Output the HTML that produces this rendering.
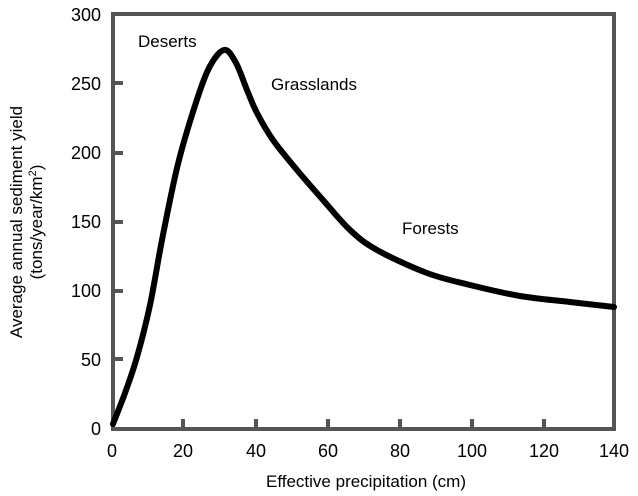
<!DOCTYPE html>
<html><head><style>body{margin:0;background:#fff}svg{display:block}</style></head><body>
<svg width="638" height="496" xmlns="http://www.w3.org/2000/svg" font-family="Liberation Sans, Arial, sans-serif">
<rect x="0" y="0" width="638" height="496" fill="#fff"/>
<g stroke="#555" stroke-width="4" fill="none">
<rect x="113" y="14" width="501" height="415"/>
<path d="M183,429v-10M256,429v-10M328,429v-10M400,429v-10M472,429v-10M544,429v-10M113,359h10M113,291h10M113,222h10M113,153h10M113,83h10"/>
</g>
<g font-size="18" fill="#000" text-anchor="end">
<text x="101" y="435">0</text><text x="101" y="366">50</text><text x="101" y="297">100</text>
<text x="101" y="228">150</text><text x="101" y="159">200</text><text x="101" y="90">250</text><text x="101" y="21">300</text>
</g>
<g font-size="18" fill="#000" text-anchor="middle">
<text x="112" y="457">0</text><text x="183" y="457">20</text><text x="256" y="457">40</text><text x="328" y="457">60</text>
<text x="400" y="457">80</text><text x="472" y="457">100</text><text x="544" y="457">120</text><text x="614" y="457">140</text>
<text x="366" y="487" font-size="17">Effective precipitation (cm)</text>
</g>
<g font-size="17" fill="#000" text-anchor="middle">
<text transform="translate(22,222) rotate(-90)">Average annual sediment yield</text>
<text transform="translate(42,222) rotate(-90)">(tons/year/km<tspan font-size="11" dy="-6">2</tspan><tspan dy="6">)</tspan></text>
</g>
<g font-size="17" fill="#000">
<text x="138" y="47">Deserts</text><text x="271" y="90">Grasslands</text><text x="402" y="234">Forests</text>
</g>
<path id="c" d="M113,424 L137,357 L150,307 L160,240 L177,163 L190,117 L207,70 L223,50 L240,67 L257,110 L277,140 L303,180 L328,210 L375,248 L410,265 L450,280 L500,295 L550,302 L614,307" fill="none" stroke="#000" stroke-width="6" stroke-linecap="round" stroke-linejoin="round"/>
</svg>
<script>
var p=[[113,424],[125,393],[137,357],[150,305],[162,240],[177,168],[192,115],[208,70],[224,50],[236,63],[247,90],[257,113],[273,140],[297,170],[323,200],[350,230],[377,250],[427,273],[470,285],[520,296],[570,302],[614,307]];
var d="M"+p[0];
for(var i=0;i<p.length-1;i++){var a=p[Math.max(i-1,0)],b=p[i],c=p[i+1],e=p[Math.min(i+2,p.length-1)];
var c1=[b[0]+(c[0]-a[0])/6,b[1]+(c[1]-a[1])/6],c2=[c[0]-(e[0]-b[0])/6,c[1]-(e[1]-b[1])/6];
d+=" C"+c1+" "+c2+" "+c;}
document.getElementById("c").setAttribute("d",d);
</script>
</body></html>
